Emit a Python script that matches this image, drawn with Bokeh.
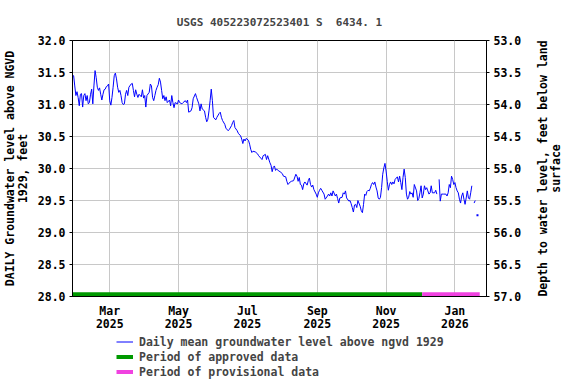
import math
import pandas as pd
from bokeh.plotting import figure
from bokeh.layouts import column, row
from bokeh.models import (Range1d, LinearAxis, DatetimeTickFormatter, MonthsTicker,
                          FixedTicker, NumeralTickFormatter, Legend, LegendItem, Label)
from bokeh.embed import file_html
from bokeh.resources import INLINE

# ---- data ----
dates = [
    "2025-01-27", "2025-01-28", "2025-01-29", "2025-01-30", "2025-01-31",
    "2025-02-01", "2025-02-02", "2025-02-03", "2025-02-04", "2025-02-05", "2025-02-06",
    "2025-02-07", "2025-02-08", "2025-02-09", "2025-02-10", "2025-02-11", "2025-02-12",
    "2025-02-13", "2025-02-14", "2025-02-15", "2025-02-16", "2025-02-17", "2025-02-18",
    "2025-02-19", "2025-02-20", "2025-02-21", "2025-02-22", "2025-02-23", "2025-02-24",
    "2025-02-25", "2025-02-26", "2025-02-27", "2025-02-28",
    "2025-03-01", "2025-03-02", "2025-03-03", "2025-03-04", "2025-03-05", "2025-03-06",
    "2025-03-07", "2025-03-08", "2025-03-09", "2025-03-10", "2025-03-11", "2025-03-12",
    "2025-03-13", "2025-03-14", "2025-03-15", "2025-03-16", "2025-03-17", "2025-03-18",
    "2025-03-20", "2025-03-21", "2025-03-22", "2025-03-23", "2025-03-24", "2025-03-25",
    "2025-03-26", "2025-03-27", "2025-03-29", "2025-03-30", "2025-03-31",
    "2025-04-01", "2025-04-02", "2025-04-03", "2025-04-05", "2025-04-06", "2025-04-07",
    "2025-04-08", "2025-04-09", "2025-04-10", "2025-04-11", "2025-04-12", "2025-04-13",
    "2025-04-14", "2025-04-15", "2025-04-16", "2025-04-17", "2025-04-18", "2025-04-19",
    "2025-04-20", "2025-04-21", "2025-04-23", "2025-04-24", "2025-04-25", "2025-04-26",
    "2025-04-27", "2025-04-28", "2025-04-30",
    "2025-05-01", "2025-05-02", "2025-05-04", "2025-05-05", "2025-05-07", "2025-05-08",
    "2025-05-09", "2025-05-10", "2025-05-12", "2025-05-13", "2025-05-14", "2025-05-16",
    "2025-05-17", "2025-05-19", "2025-05-20", "2025-05-21", "2025-05-22", "2025-05-24",
    "2025-05-25", "2025-05-26", "2025-05-27", "2025-05-28", "2025-05-29", "2025-05-30",
    "2025-05-31",
    "2025-06-01", "2025-06-03", "2025-06-04", "2025-06-06", "2025-06-07", "2025-06-08",
    "2025-06-09", "2025-06-11", "2025-06-12", "2025-06-14", "2025-06-15", "2025-06-17",
    "2025-06-18", "2025-06-19", "2025-06-20", "2025-06-22", "2025-06-23", "2025-06-25",
    "2025-06-26", "2025-06-27", "2025-06-28", "2025-06-29", "2025-06-30",
    "2025-07-02", "2025-07-03", "2025-07-04", "2025-07-05", "2025-07-06", "2025-07-08",
    "2025-07-10", "2025-07-11", "2025-07-13", "2025-07-14", "2025-07-15", "2025-07-17",
    "2025-07-18", "2025-07-19", "2025-07-21", "2025-07-22", "2025-07-23", "2025-07-24",
    "2025-07-25", "2025-07-26", "2025-07-27", "2025-07-29", "2025-07-30",
    "2025-08-01", "2025-08-02", "2025-08-04", "2025-08-05", "2025-08-06", "2025-08-08",
    "2025-08-09", "2025-08-11", "2025-08-13", "2025-08-14", "2025-08-15", "2025-08-16",
    "2025-08-17", "2025-08-18", "2025-08-19", "2025-08-20", "2025-08-21", "2025-08-23",
    "2025-08-24", "2025-08-25", "2025-08-26", "2025-08-27", "2025-08-28", "2025-08-29",
    "2025-08-31",
    "2025-09-01", "2025-09-02", "2025-09-03", "2025-09-04", "2025-09-05", "2025-09-07",
    "2025-09-08", "2025-09-10", "2025-09-11", "2025-09-12", "2025-09-13", "2025-09-14",
    "2025-09-15", "2025-09-17", "2025-09-18", "2025-09-19", "2025-09-20", "2025-09-21",
    "2025-09-23", "2025-09-24", "2025-09-25", "2025-09-26", "2025-09-27", "2025-09-29",
    "2025-09-30",
    "2025-10-01", "2025-10-02", "2025-10-03", "2025-10-04", "2025-10-05", "2025-10-06",
    "2025-10-07", "2025-10-09", "2025-10-10", "2025-10-11", "2025-10-12", "2025-10-13",
    "2025-10-14", "2025-10-15", "2025-10-16", "2025-10-17", "2025-10-18", "2025-10-19",
    "2025-10-20", "2025-10-21", "2025-10-22", "2025-10-23", "2025-10-24", "2025-10-25",
    "2025-10-26", "2025-10-27", "2025-10-28", "2025-10-29", "2025-10-30", "2025-10-31",
    "2025-11-01", "2025-11-02", "2025-11-03", "2025-11-04", "2025-11-05", "2025-11-06",
    "2025-11-07", "2025-11-08", "2025-11-09", "2025-11-11", "2025-11-12", "2025-11-13",
    "2025-11-14", "2025-11-15", "2025-11-16", "2025-11-17", "2025-11-18", "2025-11-19",
    "2025-11-20", "2025-11-21", "2025-11-22", "2025-11-23", "2025-11-24", "2025-11-25",
    "2025-11-26", "2025-11-28", "2025-11-29", "2025-11-30",
    "2025-12-01", "2025-12-02", "2025-12-03", "2025-12-04", "2025-12-05", "2025-12-06",
    "2025-12-07", "2025-12-08", "2025-12-09", "2025-12-10", "2025-12-11", "2025-12-12",
    "2025-12-14", "2025-12-15", "2025-12-16", "2025-12-17", "2025-12-18", "2025-12-19",
    "2025-12-20", "2025-12-22", "2025-12-24", "2025-12-25", "2025-12-26", "2025-12-27",
    "2025-12-28", "2025-12-29", "2025-12-30", "2025-12-31",
    "2026-01-01", "2026-01-02", "2026-01-03", "2026-01-04", "2026-01-05", "2026-01-06",
    "2026-01-07", "2026-01-08", "2026-01-09", "2026-01-10", "2026-01-11", "2026-01-12",
    "2026-01-13", "2026-01-14", "2026-01-15", "2026-01-16", "2026-01-17", "2026-01-18",
    "2026-01-19", "2026-01-20", "2026-01-21",
]
NaN = float("nan")
levels = [
    31.45, 31.45, 31.29, 31.14, 31.20,
    31.11, 30.98, 31.16, 31.17, 30.96, 31.14,
    31.17, 31.06, 31.14, 31.01, 31.03, 31.16,
    31.24, 31.01, 31.29, 31.53, 31.42, 31.27,
    31.22, 31.26, 31.16, 31.07, 31.16, 31.23,
    31.24, 31.28, 31.29, 31.32,
    31.06, 30.99, 31.11, 31.27, 31.45, 31.49,
    31.40, 31.27, 31.19, 31.22, 31.14, 31.03,
    31.00, 31.01, 31.16, 31.22, 31.14, 31.27,
    31.32, 31.33, 31.22, 31.12, 31.23, 31.16,
    31.11, 31.16, 31.12, 31.23, 31.10,
    31.14, 30.96, 31.14, 31.19, 31.32, 31.29,
    31.11, 31.06, 31.14, 31.22, 31.27, 31.31,
    31.41, 31.35, 31.22, 31.09, 31.14, 31.06,
    31.12, 31.03, 31.07, 30.98, 31.14, 31.03,
    30.95, 31.03, 31.01,
    31.07, 31.03, 31.01, 31.03, 31.06, 31.03,
    31.07, 30.88, 30.90, 30.95, 31.09, 31.17,
    31.11, 31.01, 30.90, 31.01, 30.93, 30.90,
    30.80, 30.73, 30.77, 30.90, 31.06, 31.24,
    31.06,
    30.80, 30.76, 30.80, 30.86, 30.88, 30.80,
    30.75, 30.69, 30.63, 30.59, 30.61, 30.67,
    30.72, 30.75, 30.64, 30.59, 30.55, 30.51,
    30.46, 30.39, 30.46, 30.43, 30.47,
    30.44, 30.38, 30.30, 30.25, 30.27, 30.26,
    30.23, 30.20, 30.16, 30.14, 30.20, 30.22,
    30.14, 30.20, 30.09, 30.05, 29.95, 30.02,
    30.04, 29.97, 29.99, 29.96, 29.95,
    29.92, 29.88, 29.87, 29.80, 29.75, 29.79,
    29.80, 29.81, 29.91, 29.88, 29.80, 29.86,
    29.75, 29.74, 29.67, 29.76, 29.79, 29.74,
    29.81, 29.85, 29.75, 29.71, 29.74, 29.67,
    29.60,
    29.55, 29.62, 29.66, 29.69, 29.66, 29.60,
    29.52, 29.57, 29.60, 29.57, 29.62, 29.57,
    29.65, 29.57, 29.60, 29.53, 29.46, 29.54,
    29.55, 29.62, 29.60, 29.65, 29.54, 29.49,
    29.50,
    29.45, 29.39, 29.32, 29.43, 29.44, 29.39,
    29.50, 29.41, 29.34, 29.31, 29.44, 29.60,
    29.58, 29.64, 29.66, 29.65, 29.69, 29.75,
    29.78, 29.75, 29.79, 29.71, 29.65, 29.54,
    29.52, 29.55, 29.70, 29.91, 30.01, 30.08,
    29.96, 29.80, 29.66, 29.75, 29.79, 29.75,
    29.79, 29.76, 29.83, 29.87, 29.79, 29.88,
    29.78, 29.67, 29.86, 29.99, 29.86, 29.60,
    29.52, 29.55, 29.64, 29.60, 29.62, 29.55,
    29.75, 29.65, 29.50, 29.53,
    29.62, 29.73, 29.54, 29.60, 29.73, 29.67,
    29.70, 29.65, 29.60, 29.62, 29.73, 29.62,
    29.62, 29.66, 29.60, NaN, 29.83, 29.49,
    29.60, 29.60, 29.60, 29.57, 29.62, 29.75,
    29.70, 29.88, 29.83, 29.75,
    29.78, 29.70, 29.65, 29.62, 29.52, 29.46,
    29.57, 29.62, 29.52, 29.44, 29.54, 29.65,
    29.54, 29.52, 29.62, 29.73, NaN, 29.46,
    29.50, NaN, 29.27,
]
approved_period = ["2025-01-27", "2025-12-03"]
provisional_period = ["2025-12-03", "2026-01-23"]
x_limits = ["2025-01-27", "2026-01-29"]
level_limits = [28.0, 32.0]
depth_limits = [57.0, 53.0]          # depth = 85.0 - level
level_ticks = [28.0, 28.5, 29.0, 29.5, 30.0, 30.5, 31.0, 31.5, 32.0]
depth_ticks = [53.0, 53.5, 54.0, 54.5, 55.0, 55.5, 56.0, 56.5, 57.0]
title_text = "USGS 405223072523401 S\u00a0 6434. 1"
left_label = "DAILY Groundwater level above NGVD\n1929, feet"
right_label = "Depth to water level, feet below land\nsurface"
legend_labels = ["Daily mean groundwater level above ngvd 1929",
                 "Period of approved data",
                 "Period of provisional data"]

FONT = "DejaVu Sans Mono"
FS = "11.5px"
GRID = "#c8c8c8"
BLUE, GREEN, PINK = "#0000ff", "#009900", "#f042e0"

x = pd.to_datetime(dates)
approved_x = pd.to_datetime(approved_period)
provisional_x = pd.to_datetime(provisional_period)
bar_y = level_limits[0] + 0.035

p = figure(width=530, height=334, x_axis_type="datetime",
           output_backend="svg", toolbar_location=None,
           x_range=Range1d(pd.Timestamp(x_limits[0]), pd.Timestamp(x_limits[1])),
           y_range=Range1d(*level_limits))
p.min_border_left = 72
p.min_border_right = 44
p.min_border_top = 40
p.min_border_bottom = 38
p.outline_line_color = "black"
p.outline_line_width = 1
p.background_fill_color = "white"
p.border_fill_color = "white"

p.title.text = title_text
p.title.align = "center"
p.title.text_font = FONT
p.title.text_font_size = "11px"
p.title.text_font_style = "bold"
p.title.standoff = 23

# main line
p.line(x, levels, line_color=BLUE, line_width=1)
# isolated last value as a dot
p.scatter(x[-1:], levels[-1:], marker="square", size=2, line_color=None,
          fill_color=BLUE)
# periods
p.line(approved_x, [bar_y, bar_y], line_color=GREEN, line_width=4)
p.line(provisional_x, [bar_y, bar_y], line_color=PINK, line_width=4)

# axes
xt = MonthsTicker(months=[0, 2, 4, 6, 8, 10])
xa = p.xaxis[0]
xa.ticker = xt
xa.formatter = DatetimeTickFormatter(months="%b\n%Y", days="%b\n%Y", years="%b\n%Y")
xa.major_tick_out = 0
xa.major_tick_in = 0
xa.minor_tick_out = 0
xa.minor_tick_in = 0
xa.major_label_standoff = 7
xa.major_label_text_line_height = 0.95
p.xgrid.ticker = xt

ya = p.yaxis[0]
ya.ticker = FixedTicker(ticks=level_ticks)
ya.formatter = NumeralTickFormatter(format="0.0")
ya.axis_label = left_label
ya.major_tick_out = 3
ya.major_tick_in = 0
ya.minor_tick_out = 0
ya.minor_tick_in = 0
ya.major_label_standoff = 4
ya.axis_label_standoff = 5
ya.axis_label_text_line_height = 0.9

p.extra_y_ranges = {"depth": Range1d(*depth_limits)}
ra = LinearAxis(y_range_name="depth", ticker=FixedTicker(ticks=depth_ticks),
                formatter=NumeralTickFormatter(format="0.0"))
ra.major_tick_out = 3
ra.major_tick_in = 0
ra.minor_tick_out = 0
ra.minor_tick_in = 0
ra.major_label_standoff = 4
p.add_layout(ra, "right")

p.ygrid.ticker = FixedTicker(ticks=level_ticks)
for g in (p.xgrid[0], p.ygrid[0]):
    g.grid_line_color = GRID
    g.grid_line_width = 1

for ax in (xa, ya, ra):
    ax.axis_line_color = "black"
    ax.major_tick_line_color = "black"
    ax.major_label_text_font = FONT
    ax.major_label_text_font_size = FS
    ax.major_label_text_font_style = "bold"
    ax.major_label_text_color = "black"
    ax.axis_label_text_font = FONT
    ax.axis_label_text_font_size = FS
    ax.axis_label_text_font_style = "bold"
    ax.axis_label_text_color = "black"

# right-hand axis title, reading bottom to top like the left one
r = figure(width=46, height=334, output_backend="svg", toolbar_location=None,
           x_axis_location=None, y_axis_location=None,
           x_range=Range1d(0, 1), y_range=Range1d(0, 1))
r.min_border = 0
r.outline_line_color = None
r.grid.visible = False
r.add_layout(Label(x=0.41, y=0.5, text=right_label, angle=math.pi / 2,
                   text_align="center", text_baseline="middle",
                   text_font=FONT, text_font_size=FS, text_font_style="bold",
                   text_line_height=0.9, text_color="black"))

# legend strip below the chart (its renderers draw the same series, out of view)
q = figure(width=576, height=50, output_backend="svg", toolbar_location=None,
           x_axis_location=None, y_axis_location=None, x_axis_type="datetime",
           x_range=Range1d(pd.Timestamp(x_limits[0]), pd.Timestamp(x_limits[1])),
           y_range=Range1d(0, 1))
q.min_border = 0
q.outline_line_color = None
q.grid.visible = False
l_line = q.line(x, levels, line_color=BLUE, line_width=1)
l_appr = q.line(approved_x, [bar_y, bar_y], line_color=GREEN, line_width=4)
l_prov = q.line(provisional_x, [bar_y, bar_y], line_color=PINK, line_width=4)
legend = Legend(items=[LegendItem(label=legend_labels[0], renderers=[l_line]),
                       LegendItem(label=legend_labels[1], renderers=[l_appr]),
                       LegendItem(label=legend_labels[2], renderers=[l_prov])],
                location=(116, 5), orientation="vertical")
legend.border_line_color = None
legend.background_fill_alpha = 0
legend.label_text_font = FONT
legend.label_text_font_size = FS
legend.label_text_font_style = "bold"
legend.glyph_width = 17
legend.glyph_height = 15
legend.label_height = 15
legend.label_standoff = 6
legend.spacing = 0
legend.padding = 0
legend.margin = 0
q.add_layout(legend, "center")

layout = column(row(p, r, spacing=0), q, spacing=0)
open("out.html", "w").write(file_html(layout, INLINE))
